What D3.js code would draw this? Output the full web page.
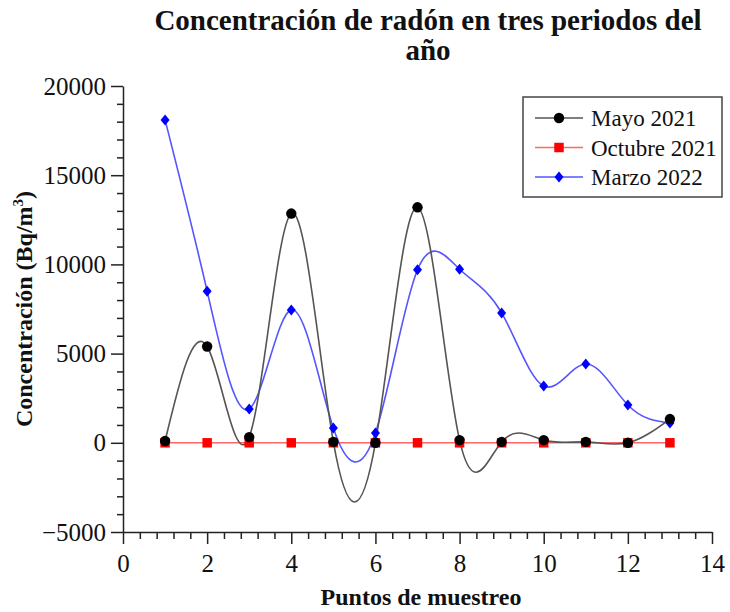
<!DOCTYPE html>
<html>
<head>
<meta charset="utf-8">
<script src="https://cdn.jsdelivr.net/npm/d3@7"></script>
<style>
  body { margin: 0; background: #fff; }
  text { font-family: "Liberation Serif", "DejaVu Serif", serif; fill: #111; }
</style>
</head>
<body>
<div class="chart"></div>
<script>
const width = 730;
const height = 612;

// sampling points
const puntos = [1, 2, 3, 4, 5, 6, 7, 8, 9, 10, 11, 12, 13];

// radon concentration (Bq/m3)
const mayo2021 = [100, 5400, 320, 12850, 50, 0, 13200, 150, 50, 150, 50, 0, 1330];
const octubre2021 = [0, 0, 0, 0, 0, 0, 0, 0, 0, 0, 0, 0, 0];
const marzo2022 = [18100, 8500, 1900, 7450, 830, 550, 9700, 9730, 7280, 3180, 4420, 2120, 1110];

const seriesNames = ['Mayo 2021', 'Octubre 2021', 'Marzo 2022'];
const seriesColors = ['#000000', '#ff0000', '#0000ff'];
const lineColors = ['#555555', '#ff6666', '#5555ff'];

const xTicks = [0, 2, 4, 6, 8, 10, 12, 14];
const yTicks = [-5000, 0, 5000, 10000, 15000, 20000];

const title = ['Concentración de radón en tres periodos del', 'año'];

// squat diamond like the original plot
const diamond = {
    draw(ctx) {
        ctx.moveTo(0, -5.5);
        ctx.lineTo(4.5, 0);
        ctx.lineTo(0, 5.5);
        ctx.lineTo(-4.5, 0);
        ctx.closePath();
    }
};
const seriesMarkers = [d3.symbolCircle, d3.symbolSquare, diamond];
const markerSizes = [85, 90, 1];

const svg = d3.select('.chart').append('svg')
    .attr('width', width)
    .attr('height', height);

svg.append('rect').attr('width', width).attr('height', height).attr('fill', '#fff');

const x = d3.scaleLinear().domain([0, 14]).range([123, 712]);
const y = d3.scaleLinear().domain([-5000, 20000]).range([532, 86]);

// title
svg.append('text')
    .attr('x', 428)
    .attr('y', 30)
    .attr('text-anchor', 'middle')
    .style('font-weight', 'bold')
    .style('font-size', '29px')
    .selectAll('tspan')
    .data(title)
    .enter().append('tspan')
    .attr('x', 428)
    .attr('dy', (d, i) => i === 0 ? 0 : 30)
    .text(d => d);

// x axis with minor ticks
const xMinor = d3.range(0, 14.01, 0.4).filter(v => Math.abs(v / 2 - Math.round(v / 2)) > 0.01);
svg.append('g')
    .attr('transform', `translate(0,${y(-5000)})`)
    .call(d3.axisBottom(x).tickValues(xMinor).tickSize(7).tickFormat(''))
    .call(g => g.select('.domain').remove());
const xAxis = svg.append('g')
    .attr('transform', `translate(0,${y(-5000)})`)
    .call(d3.axisBottom(x).tickValues(xTicks).tickSize(12).tickSizeOuter(0).tickPadding(10));
xAxis.selectAll('text').style('font-size', '25px').style('font-family', '"Liberation Serif", serif').attr('fill', '#222');

// y axis with minor ticks
const yMinor = d3.range(-5000, 20001, 1000).filter(v => v % 5000 !== 0);
svg.append('g')
    .attr('transform', `translate(${x(0)},0)`)
    .call(d3.axisLeft(y).tickValues(yMinor).tickSize(6).tickFormat(''))
    .call(g => g.select('.domain').remove());
const yAxis = svg.append('g')
    .attr('transform', `translate(${x(0)},0)`)
    .call(d3.axisLeft(y).tickValues(yTicks).tickSize(12).tickSizeOuter(0).tickPadding(5).tickFormat(d => d < 0 ? '\u2212' + Math.abs(d) : d));
yAxis.selectAll('text').style('font-size', '25px').style('font-family', '"Liberation Serif", serif').attr('fill', '#222');

svg.selectAll('.domain, .tick line').attr('stroke', '#222').attr('stroke-width', 1.5);

// axis labels
svg.append('text')
    .attr('x', 421)
    .attr('y', 605)
    .attr('text-anchor', 'middle')
    .style('font-weight', 'bold')
    .style('font-size', '24px')
    .text('Puntos de muestreo');

const yLabel = svg.append('text')
    .attr('transform', 'translate(32,309) rotate(-90)')
    .attr('text-anchor', 'middle')
    .style('font-weight', 'bold')
    .style('font-size', '24px');
yLabel.append('tspan').text('Concentración (Bq/m');
yLabel.append('tspan').attr('dy', -9).style('font-size', '15px').text('3');
yLabel.append('tspan').attr('dy', 9).text(')');

// series
const allSeries = [mayo2021, octubre2021, marzo2022];
const drawOrder = [1, 2, 0];
const line = d3.line()
    .x((d, i) => x(puntos[i]))
    .y(d => y(d))
    .curve(d3.curveNatural);

drawOrder.forEach(s => {
    svg.append('path')
        .datum(allSeries[s])
        .attr('d', line)
        .attr('fill', 'none')
        .attr('stroke', lineColors[s])
        .attr('stroke-width', 1.6);
});

drawOrder.forEach(s => {
    svg.selectAll('.m' + s)
        .data(allSeries[s])
        .enter().append('path')
        .attr('class', 'm' + s)
        .attr('transform', (d, i) => `translate(${x(puntos[i])},${y(d)})`)
        .attr('d', d3.symbol().type(seriesMarkers[s]).size(markerSizes[s]))
        .attr('fill', seriesColors[s]);
});

// legend
const legend = svg.append('g');
legend.append('rect')
    .attr('x', 523).attr('y', 97)
    .attr('width', 199).attr('height', 100)
    .attr('fill', '#fff')
    .attr('stroke', '#444')
    .attr('stroke-width', 1.5);

const rows = legend.selectAll('.row')
    .data(seriesNames)
    .enter().append('g')
    .attr('class', 'row')
    .attr('transform', (d, i) => `translate(0,${118 + i * 29.5})`);

rows.append('line')
    .attr('x1', 535).attr('x2', 583)
    .attr('stroke', (d, i) => lineColors[i])
    .attr('stroke-width', 1.6);
rows.append('path')
    .attr('transform', 'translate(559,0)')
    .attr('d', (d, i) => d3.symbol().type(seriesMarkers[i]).size(markerSizes[i])())
    .attr('fill', (d, i) => seriesColors[i]);
rows.append('text')
    .attr('x', 591)
    .attr('y', 8)
    .style('font-size', '23px')
    .text(d => d);
</script>
</body>
</html>
